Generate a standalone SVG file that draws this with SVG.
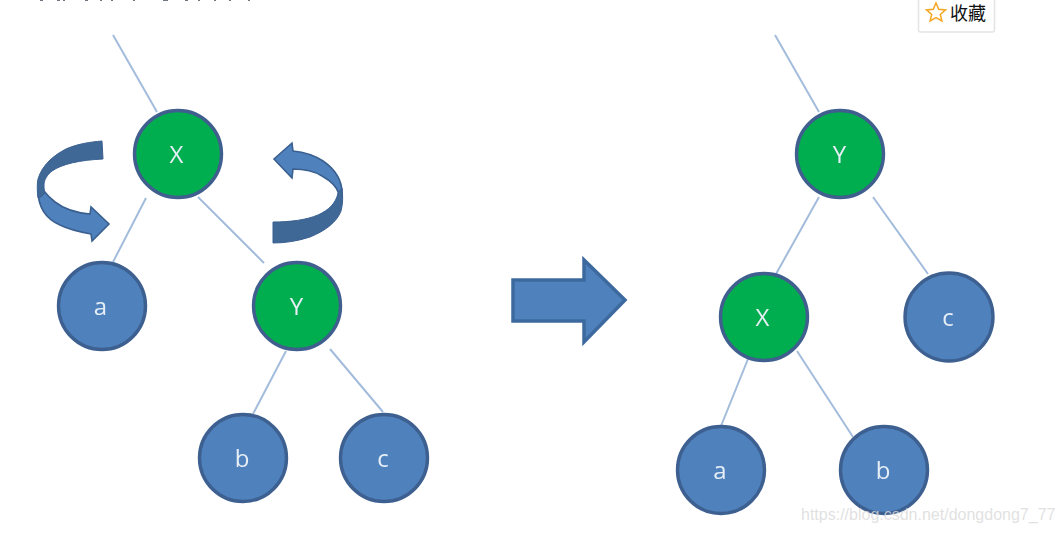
<svg xmlns="http://www.w3.org/2000/svg" width="1062" height="533" viewBox="0 0 1062 533">
<defs><filter id="soft" x="-5%" y="-5%" width="110%" height="110%"><feGaussianBlur stdDeviation="0.55"/></filter></defs>
<style>
.e{stroke:#a3bcdc;stroke-width:2;fill:none}
.g{fill:#00ae4f;stroke:#3f5f8f;stroke-width:3.4}
.b{fill:#4f81bd;stroke:#3d6191;stroke-width:3.4}
.t{font-family:"Open Sans","Noto Sans",sans-serif;font-size:24px;text-anchor:middle;fill:#e6eef6}
.ad{fill:#3f6797;stroke:#3a6090;stroke-width:1}
.al{fill:#4f81bd;stroke:#3a6090;stroke-width:1.6}
</style>
<rect width="1062" height="533" fill="#fff"/>
<path d="M40 0.500h3M57 0.500h3M63 0.500h2M85 0.500h3M100 0.500h2M111 0.500h2M133 0.500h2M163 0.500h5M185 0.500h3M198 0.500h2M214 0.500h2M229 0.500h2M248 0.500h2" stroke="#6f7680" stroke-width="1" fill="none"/>
<g filter="url(#soft)">
<g id="connectors">
<line class="e" x1="113" y1="35" x2="157" y2="112"/>
<line class="e" x1="146" y1="198" x2="113" y2="262"/>
<line class="e" x1="198" y1="197" x2="264" y2="263"/>
<line class="e" x1="286" y1="351" x2="253" y2="414"/>
<line class="e" x1="330" y1="349" x2="383" y2="412"/>
<line class="e" x1="775" y1="35" x2="819" y2="112"/>
<line class="e" x1="819" y1="197" x2="776" y2="274"/>
<line class="e" x1="873" y1="197" x2="928" y2="274"/>
<line class="e" x1="748" y1="359" x2="721" y2="426"/>
<line class="e" x1="797" y1="351" x2="853" y2="437"/>
</g>
<g id="node-x1"><circle class="g" cx="178" cy="154" r="43.500"/><text class="t" x="176.500" y="163">X</text></g>
<g id="node-a1"><circle class="b" cx="102" cy="306" r="43.500"/><text class="t" x="100.500" y="315">a</text></g>
<g id="node-y1"><circle class="g" cx="297" cy="306" r="43.500"/><text class="t" x="296.500" y="315">Y</text></g>
<g id="node-b1"><circle class="b" cx="243" cy="458" r="43.500"/><text class="t" x="242" y="467">b</text></g>
<g id="node-c1"><circle class="b" cx="384" cy="458" r="43.500"/><text class="t" x="383" y="467">c</text></g>
<g id="node-y2"><circle class="g" cx="840" cy="154" r="43.500"/><text class="t" x="839.500" y="163">Y</text></g>
<g id="node-x2"><circle class="g" cx="764" cy="317" r="43.500"/><text class="t" x="762.500" y="326">X</text></g>
<g id="node-c2"><circle class="b" cx="949" cy="317" r="44"/><text class="t" x="948" y="326">c</text></g>
<g id="node-a2"><circle class="b" cx="721" cy="470" r="43.500"/><text class="t" x="720" y="479">a</text></g>
<g id="node-b2"><circle class="b" cx="884" cy="470" r="43.500"/><text class="t" x="883" y="479">b</text></g>
<g id="rotate-left">
<path class="al" d="M38 190C38 206 44 218 60 225C70 230 80 232 91 234L92 241L109 224L91 207L90 214C77 213 64 209 55 202C50 198 47 195 44 191Z"/>
<path class="ad" d="M102 141L103 159C80 160 62 164 52 171C47 175 44 180 44 185C44 188 44 190 45 193C42 196 40 198 38 198C37 190 37 184 38 179C42 165 54 155 66 149C77 144 90 142 102 141Z"/>
</g>
<g id="rotate-right">
<path class="al" d="M342 193C342 180 336 170 323 161C314 155 303 152 293 151L292 143L274 159L292 178L293 169C304 169 314 171 322 176C331 181 337 187 339 194L342 197Z"/>
<path class="ad" d="M273 222C290 222 306 220 318 215C329 210 336 203 338 193L342 188C343 196 343 204 341 211C337 222 325 231 310 237C298 241 285 243 273 243Z"/>
</g>
<g id="big-arrow">
<path d="M513 280H584V260L625 300L584 342V321H513Z" fill="#4f81bd" stroke="#3d6a9e" stroke-width="3.500"/>
</g>
</g>
<g id="favorite">
<rect x="918.500" y="-4" width="76" height="36" rx="2" fill="#fff" stroke="#e4e4e4" stroke-width="1.500"/>
<path d="M936 3L938.700 9.300L945.500 9.900L940.300 14.400L941.900 21L936 17.500L930.100 21L931.700 14.400L926.500 9.900L933.300 9.300Z" fill="none" stroke="#f5a623" stroke-width="1.500"/>
<text x="950" y="20" font-family="'Noto Sans CJK SC','Noto Sans',sans-serif" font-size="18" fill="#111">收藏</text>
</g>
<text x="801" y="520" font-family="'Liberation Sans',Arial,sans-serif" font-size="16" fill="#d9d9d9" fill-opacity=".8">https://blog.csdn.net/dongdong7_77</text>
</svg>
